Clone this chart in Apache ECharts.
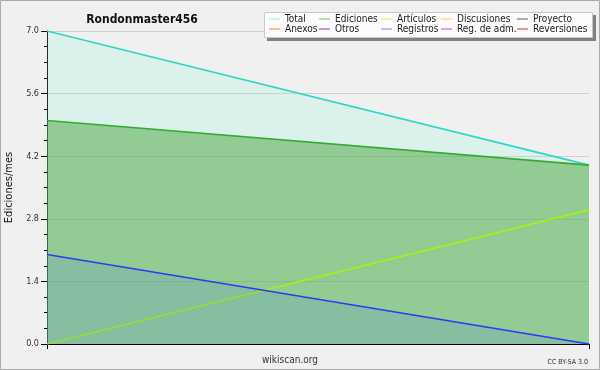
<!DOCTYPE html>
<html><head><meta charset="utf-8">
<script src="https://cdn.jsdelivr.net/npm/echarts@6/dist/echarts.min.js"></script>
<style>html,body{margin:0;padding:0;background:#f0f0f0}#c{width:600px;height:370px}</style>
</head><body><div id="c"></div>
<script>
const months = ['Mes 1', 'Mes 2'];
const total = [7, 4];
const ediciones = [5, 4];
const articulos = [0, 3];
const registros = [2, 0];
const yTicks = { min: 0, max: 7, interval: 1.4 };
const legendRows = [
  ['Total', 'Ediciones', 'Artículos', 'Discusiones', 'Proyecto'],
  ['Anexos', 'Otros', 'Registros', 'Reg. de adm.', 'Reversiones']
];
const legendColors = {
  'Total': '#a6e6df', 'Ediciones': '#80c080', 'Artículos': '#c8f060', 'Discusiones': '#ffd060',
  'Proyecto': '#606060', 'Anexos': '#ff8040', 'Otros': '#8040c0', 'Registros': '#8080ff',
  'Reg. de adm.': '#d040e0', 'Reversiones': '#e03030'
};
const font = "'DejaVu Sans Condensed','DejaVu Sans',sans-serif";
const chart = echarts.init(document.getElementById('c'), null, { renderer: 'canvas' });

const colX = [269, 319, 381, 441, 517];
const legends = colX.map((x, i) => ({
  left: x, top: 14, orient: 'vertical', itemGap: 0, itemWidth: 11, itemHeight: 1, icon: 'rect',
  padding: 0, selectedMode: false, z: 5,
  textStyle: { fontFamily: font, fontSize: 10, color: '#222', lineHeight: 10, padding: [0, 0, 0, 0] },
  data: [legendRows[0][i], legendRows[1][i]].map(n => ({ name: n, itemStyle: { color: legendColors[n] } }))
}));

const allNames = legendRows[0].concat(legendRows[1]);
const dataMap = { 'Total': total, 'Ediciones': ediciones, 'Artículos': articulos, 'Registros': registros };
const styleMap = {
  'Total': { line: '#30d5c8', area: 'rgba(135,250,220,0.2)' },
  'Ediciones': { line: '#33aa33', area: 'rgba(76,164,60,0.5)' },
  'Artículos': { line: '#aaee11', area: null },
  'Registros': { line: '#2a3cf0', area: 'rgba(60,123,234,0.15)' }
};
const order = ['Total', 'Ediciones', 'Artículos', 'Registros'];
const series = order.map((n, i) => ({
  name: n, type: 'line', data: dataMap[n], symbol: 'none', z: 2 + i,
  lineStyle: { color: styleMap[n].line, width: 1.6 },
  itemStyle: { color: legendColors[n] },
  areaStyle: styleMap[n].area ? { color: styleMap[n].area, opacity: 1 } : undefined,
  animation: false
}));
allNames.filter(n => !dataMap[n]).forEach(n => series.push({
  name: n, type: 'line', data: [], symbol: 'none', itemStyle: { color: legendColors[n] },
  lineStyle: { color: legendColors[n] }, animation: false
}));

chart.setOption({
  backgroundColor: '#f0f0f0',
  animation: false,
  title: {
    text: 'Rondonmaster456', left: 137, top: 9, textAlign: 'center',
    textStyle: { fontFamily: font, fontSize: 12, fontWeight: 'bold', color: '#111' }
  },
  legend: legends,
  grid: { left: 47, right: 11, top: 31, bottom: 26, containLabel: false, outerBoundsMode: 'none' },
  xAxis: {
    type: 'category', data: months, boundaryGap: false,
    axisLine: { lineStyle: { color: '#000', width: 1 } },
    axisTick: { show: true, length: 5, lineStyle: { color: '#000' }, alignWithLabel: true },
    axisLabel: { show: false }, splitLine: { show: false }
  },
  yAxis: {
    type: 'value', min: yTicks.min, max: yTicks.max, interval: yTicks.interval,
    name: 'Ediciones/mes', nameLocation: 'middle', nameGap: 32, nameRotate: 90,
    nameTextStyle: { fontFamily: font, fontSize: 11, color: '#111' },
    axisLine: { show: true, lineStyle: { color: '#000', width: 1 } },
    axisTick: { show: true, inside: false, length: 6, lineStyle: { color: '#000' } },
    minorTick: { show: true, splitNumber: 4, length: 3, lineStyle: { color: '#000' } },
    axisLabel: { fontFamily: font, fontSize: 9, color: '#333', margin: 8, formatter: v => v.toFixed(1) },
    splitLine: { show: true, lineStyle: { color: '#cfcfcf', width: 1 } }
  },
  graphic: [
    { type: 'rect', z: -10, silent: true, shape: { x: 0.5, y: 0.5, width: 599, height: 369 },
      style: { fill: 'none', stroke: '#aaaaaa', lineWidth: 1 } },
    { type: 'rect', z: 0, silent: true, shape: { x: 267, y: 15, width: 329, height: 26 },
      style: { fill: '#808080' } },
    { type: 'rect', z: 1, silent: true, shape: { x: 264.5, y: 12.5, width: 328, height: 25 },
      style: { fill: '#fcfcfc', stroke: '#c8c8c8', lineWidth: 1 } },
    { type: 'text', left: 262, top: 355, silent: true,
      style: { text: 'wikiscan.org', fontFamily: font, fontSize: 10, fill: '#333', textAlign: 'center' } },
    { type: 'text', right: 12, top: 359, silent: true,
      style: { text: 'CC BY-SA 3.0', fontFamily: font, fontSize: 7, fill: '#333' } }
  ],
  series: series
});
</script></body></html>
